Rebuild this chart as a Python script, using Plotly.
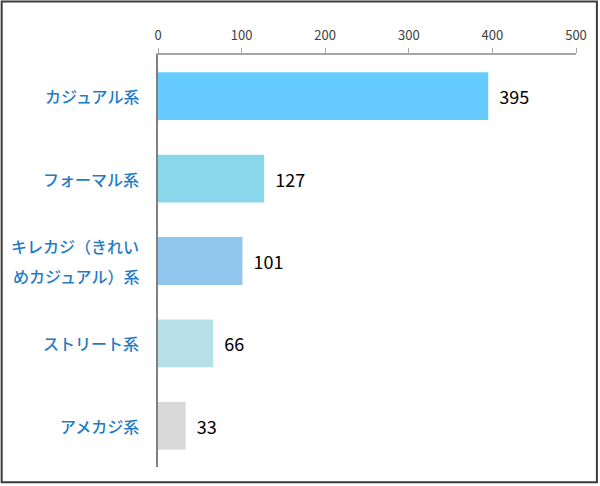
import plotly.graph_objects as go

categories = ["カジュアル系", "フォーマル系", "キレカジ（きれい<br>めカジュアル）系", "ストリート系", "アメカジ系"]
values = [395, 127, 101, 66, 33]
colors = ["#66CCFF", "#8AD7EB", "#93C6EC", "#B7DFE8", "#D9D9D9"]

fig = go.Figure(go.Bar(
    x=values,
    y=categories,
    orientation="h",
    width=0.58,
    marker=dict(color=colors, line=dict(width=0)),
    text=values,
    texttemplate="  %{x}",
    textposition="outside",
    textfont=dict(size=18, color="#000000", family="Noto Sans CJK JP"),
    cliponaxis=False,
    hoverinfo="skip",
))

# category labels as annotations so the two-line one gets wider line spacing
for cat in categories:
    lines = cat.split("<br>")
    n = len(lines)
    for i, line in enumerate(lines):
        fig.add_annotation(
            x=0, xref="paper", y=cat, yref="y",
            text=line, showarrow=False,
            xanchor="right", yanchor="middle",
            xshift=-17, yshift=(n - 1) * 15 - i * 30,
            font=dict(size=16, color="#1F7BC4", family="Noto Sans CJK JP", weight=500),
        )

# thin border round the whole picture
fig.add_shape(type="rect", xref="paper", yref="paper",
              x0=-0.374, x1=1.050, y0=-0.037, y1=1.130,
              line=dict(color="#3A3A3A", width=2), layer="above")

fig.update_layout(
    width=600, height=486,
    margin=dict(l=158, r=24, t=55, b=19),
    paper_bgcolor="white", plot_bgcolor="white",
    showlegend=False,
    font=dict(family="Noto Sans CJK JP"),
    xaxis=dict(range=[0, 500], side="top", dtick=100, showgrid=False,
               zeroline=False, showline=True, linecolor="#A6A6A6", linewidth=1.5,
               ticks="outside", ticklen=5, tickcolor="#A6A6A6",
               ticklabelstandoff=3,
               tickfont=dict(size=13, color="#404040")),
    yaxis=dict(autorange="reversed", showgrid=False, zeroline=False,
               showline=True, linecolor="#808080", linewidth=1.5, ticks="",
               showticklabels=False),
)

fig.write_html("out.html", config={"displayModeBar": False},
               post_script="document.body.style.margin='0';")
